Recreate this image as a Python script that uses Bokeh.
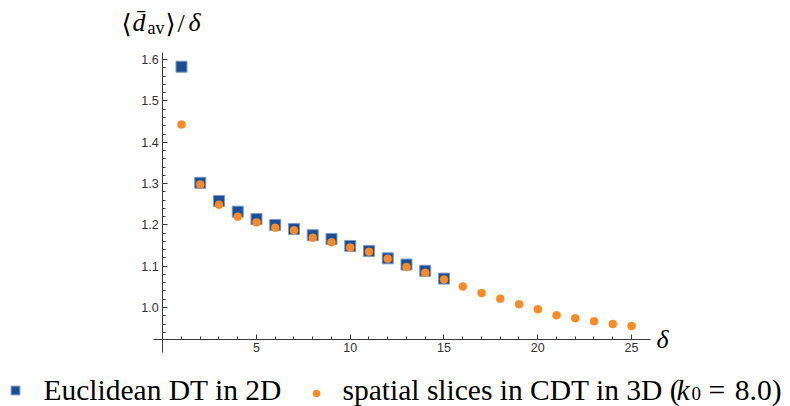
from bokeh.plotting import figure
from bokeh.models import Label, Legend, LegendItem, FixedTicker, PrintfTickFormatter, Range1d
from bokeh.embed import file_html
from bokeh.resources import INLINE

# ---- data ----
delta_2d = [1, 2, 3, 4, 5, 6, 7, 8, 9, 10, 11, 12, 13, 14, 15]
dav_2d = [1.583, 1.302, 1.258, 1.232, 1.214, 1.200, 1.190, 1.175, 1.166,
          1.149, 1.137, 1.119, 1.104, 1.089, 1.070]
delta_3d = [1, 2, 3, 4, 5, 6, 7, 8, 9, 10, 11, 12, 13, 14, 15, 16, 17, 18, 19,
            20, 21, 22, 23, 24, 25]
dav_3d = [1.443, 1.298, 1.249, 1.220, 1.206, 1.193, 1.187, 1.169, 1.158,
          1.145, 1.135, 1.118, 1.098, 1.084, 1.068, 1.051, 1.035, 1.021,
          1.008, 0.996, 0.981, 0.974, 0.967, 0.960, 0.955]
x_major = [5, 10, 15, 20, 25]
x_minor = [1, 2, 3, 4, 6, 7, 8, 9, 11, 12, 13, 14, 16, 17, 18, 19, 21, 22, 23, 24]
y_major = [1.0, 1.1, 1.2, 1.3, 1.4, 1.5, 1.6]
y_minor = [0.94, 0.96, 0.98, 1.02, 1.04, 1.06, 1.08, 1.12, 1.14, 1.16, 1.18,
           1.22, 1.24, 1.26, 1.28, 1.32, 1.34, 1.36, 1.38, 1.42, 1.44, 1.46,
           1.48, 1.52, 1.54, 1.56, 1.58]
legend_2d = "Euclidean DT in 2D"
legend_3d = "spatial slices in CDT in 3D ("

BLUE = "#1c4e96"
BLUE_EDGE = "#7b98c6"
ORANGE = "#fb8a24"
AXIS = "#3a3a3a"
SERIF = "Liberation Serif"

W, H = 790, 406
YFIX = 8  # label baseline correction (px)

p = figure(width=W, height=H, output_backend="svg", toolbar_location=None,
           x_range=Range1d(-8.653, 33.48), y_range=Range1d(0.7603, 1.7433),
           min_border=0)
p.outline_line_color = None
p.grid.visible = False
p.background_fill_color = "white"
p.border_fill_color = "white"

# axes crossing like Mathematica
for ax in (p.xaxis[0], p.yaxis[0]):
    ax.axis_line_color = AXIS
    ax.axis_line_width = 1
    ax.major_tick_line_color = AXIS
    ax.minor_tick_line_color = AXIS
    ax.major_tick_in = 5
    ax.major_tick_out = 0
    ax.minor_tick_in = 3
    ax.minor_tick_out = 0
    ax.major_label_text_font = "Liberation Sans"
    ax.major_label_text_font_size = "12.5px"
    ax.major_label_text_color = "#333333"
    ax.major_label_standoff = 4

p.xaxis.fixed_location = 0.9226
p.yaxis.fixed_location = 0
p.xaxis.bounds = (-0.48, 26.03)
p.yaxis.bounds = (0.891, 1.617)
p.xaxis.ticker = FixedTicker(ticks=x_major, minor_ticks=x_minor)
p.yaxis.ticker = FixedTicker(ticks=y_major, minor_ticks=y_minor)
p.xaxis.formatter = PrintfTickFormatter(format="%d")
p.yaxis.formatter = PrintfTickFormatter(format="%.1f")

r_sq = p.scatter(delta_2d, dav_2d, marker="square", size=11,
                 fill_color=BLUE, line_color=BLUE_EDGE, line_width=1)
r_ci = p.scatter(delta_3d, dav_3d, marker="circle", size=8,
                 fill_color=ORANGE, line_color=ORANGE, line_width=0.5)

# helpers: image pixel -> screen units (frame == canvas)
def sx(x):
    return x

def sy(y):
    return H - y

def lab(text, x, y, size, style="normal", font=SERIF, align="left"):
    p.add_layout(Label(x=sx(x), y=sy(y) + YFIX, x_units="screen", y_units="screen",
                       text=text, text_font=font, text_font_size=size,
                       text_font_style=style, text_color="black",
                       text_align=align, text_baseline="alphabetic"))

# axis titles
lab("\u27e8", 121, 31, "26px", font="DejaVu Serif")
lab("d\u0304", 132, 30, "26px", style="italic")
lab("av", 147, 35, "18px")
lab("\u27e9", 165, 31, "26px", font="DejaVu Serif")
lab("/", 177, 31, "26px")
lab("\u03b4", 188, 30, "26px", style="italic")
lab("\u03b4", 656, 347, "26px", style="italic")

# legend texts
BL = 397
FS = "29.5px"
lab(legend_2d, 43, BL, FS)
lab(legend_3d, 342, BL, FS)
lab("k", 676, BL, FS, style="italic")
lab("0", 691, BL + 4, "19px")
lab("=", 708, BL, FS)
lab("8.0)", 781, BL, FS, align="right")

# legend markers
def marker_legend(r, cx, cy, g):
    leg = Legend(items=[LegendItem(label=" ", renderers=[r])],
                 location=(sx(cx - g / 2), sy(cy + g / 2)),
                 orientation="horizontal", glyph_width=g, glyph_height=g,
                 label_height=g, label_width=1, label_standoff=0,
                 label_text_font_size="1px", padding=0, margin=0, spacing=0,
                 border_line_color=None, background_fill_alpha=0)
    p.add_layout(leg)

marker_legend(r_sq, 14.5, 390, 22)
marker_legend(r_ci, 316, 393, 18)

open("out.html", "w").write(file_html(p, INLINE))
